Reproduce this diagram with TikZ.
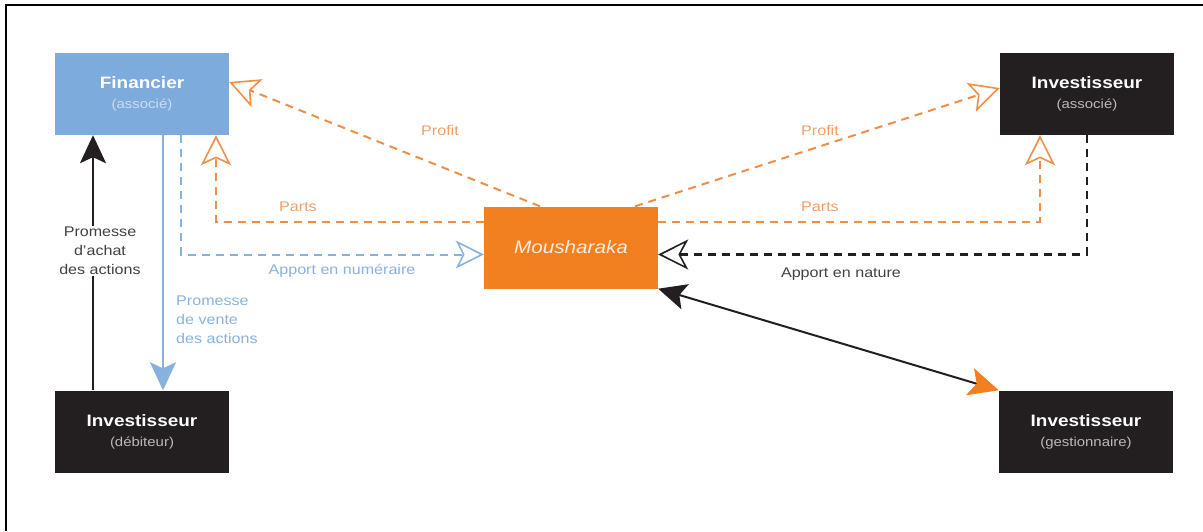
\documentclass[tikz,border=0pt]{standalone}
\usepackage{fontspec}
\setmainfont{Liberation Sans}[FakeStretch=1.15]
\usetikzlibrary{arrows.meta,positioning}

\definecolor{finblue}{RGB}{125,171,220}
\definecolor{boxdark}{RGB}{35,31,32}
\definecolor{mousorange}{RGB}{243,128,32}
\definecolor{lineorange}{RGB}{240,142,70}
\definecolor{labelorange}{RGB}{242,158,105}
\definecolor{lineblue}{RGB}{135,178,224}
\definecolor{subgrey}{RGB}{185,185,185}

\tikzset{
  actor/.style={minimum width=174pt, minimum height=82pt, inner sep=0pt,
    align=center, text=white, font=\fontsize{13}{20}\selectfont},
  flowlabel/.style={font=\fontsize{14}{19}\selectfont, inner sep=1pt},
  orangeflow/.style={draw=lineorange, line width=2pt, dash pattern=on 8pt off 6pt,
    -{Stealth[open, length=30pt, width=30pt, inset=7pt, line width=1.6pt]}},
  blueflow/.style={draw=lineblue, line width=2pt, dash pattern=on 8pt off 6pt,
    -{Stealth[open, length=28pt, width=28pt, inset=7pt, line width=1.6pt]}},
  kindflow/.style={draw=boxdark, line width=2.2pt, dash pattern=on 8pt off 6pt,
    -{Stealth[open, length=30pt, width=30pt, inset=8pt, line width=1.6pt]}},
  promise/.style={line width=2pt, -{Stealth[length=28pt, width=26pt, inset=6pt]}}
}

\newcommand{\actortitle}[1]{{\fontsize{16.5}{20}\selectfont\bfseries #1}}

\begin{document}
\begin{tikzpicture}[x=1pt, y=-1pt]
  \useasboundingbox (0,0) rectangle (1203,531);

  % --- Frame ---
  \draw[line width=2.5pt] (6,531) -- (6,5) -- (1203,5);

  % --- Actors ---
  \node[actor, fill=finblue] (fin) at (142,94)
    {\actortitle{Financier}\\{\color{finblue!40!white}(associé)}};
  \node[actor, fill=boxdark] (invA) at (1087,94)
    {\actortitle{Investisseur}\\{\color{subgrey}(associé)}};
  \node[actor, fill=mousorange, text={rgb,255:red,255;green,236;blue,222},
    font=\fontsize{18}{20}\selectfont\itshape] (mous) at (571,247.5) {Mousharaka};
  \node[actor, fill=boxdark] (deb) at (142,431.5)
    {\actortitle{Investisseur}\\{\color{subgrey}(débiteur)}};
  \node[actor, fill=boxdark] (gest) at (1086,431.5)
    {\actortitle{Investisseur}\\{\color{subgrey}(gestionnaire)}};

  % --- Profit and parts ---
  \draw[orangeflow] ([xshift=-31pt]mous.north) -- ([yshift=12pt]fin.east);
  \draw[orangeflow] ([xshift=64pt]mous.north) -- ([yshift=6pt]invA.west);
  \draw[orangeflow] ([yshift=26pt]mous.west) -| ([xshift=74pt]fin.south);
  \draw[orangeflow] ([yshift=26pt]mous.east) -| ([xshift=-47pt]invA.south);

  % --- Contributions ---
  \draw[blueflow] ([xshift=39pt]fin.south) |- ([yshift=-7pt]mous.west);
  \draw[kindflow] (invA.south) |- ([yshift=-7pt]mous.east);

  % --- Promises ---
  \draw[promise, draw=boxdark, fill=boxdark] ([xshift=-49pt]deb.north) -- ([xshift=-49pt]fin.south);
  \draw[promise, draw=lineblue, fill=lineblue] ([xshift=21pt]fin.south) -- ([xshift=21pt]deb.north);

  % --- Management ---
  \draw[line width=2pt, draw=boxdark,
    {Stealth[length=28pt, width=26pt, inset=6pt, color=boxdark]}-{Stealth[length=30pt, width=28pt, inset=7pt, color=mousorange]}]
    (mous.south east) -- (gest.north west);

  % --- Labels ---
  \node[flowlabel, text=labelorange] (profitL) at (440,130) {Profit};
  \node[flowlabel, text=labelorange] (profitR) at (820,130) {Profit};
  \node[flowlabel, text=labelorange] (partsL) at (298,207) {Parts};
  \node[flowlabel, text=labelorange] (partsR) at (820,207) {Parts};
  \node[flowlabel, text=lineblue] (cash) at (342,271) {Apport en numéraire};
  \node[flowlabel, text=boxdark!85] (kind) at (841,274) {Apport en nature};
  \node[flowlabel, fill=white, align=center, text=boxdark!85] (buy) at (100,251)
    {Promesse\\d’achat\\des actions};
  \node[flowlabel, align=left, anchor=west, text=lineblue] (sell) at (175,320)
    {Promesse\\de vente\\des actions};
\end{tikzpicture}
\end{document}
